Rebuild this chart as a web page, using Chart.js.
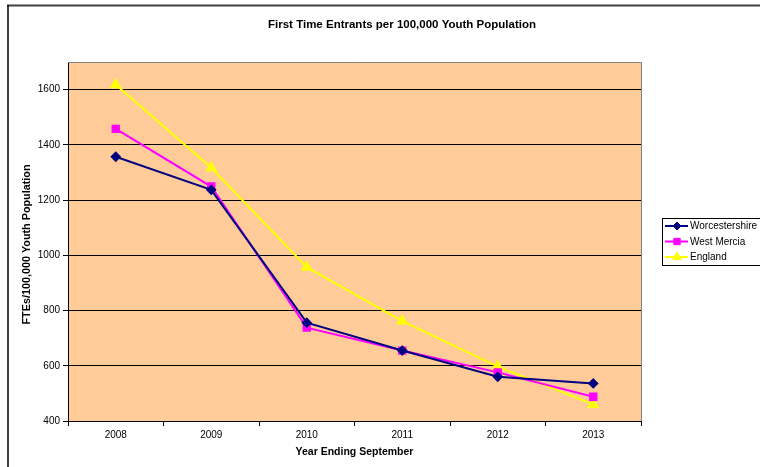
<!DOCTYPE html>
<html>
<head>
<meta charset="utf-8">
<script src="https://cdn.jsdelivr.net/npm/chart.js@4/dist/chart.umd.min.js"></script>
<style>
html,body{margin:0;padding:0;background:#fff;}
#wrap{position:relative;width:760px;height:467px;}
</style>
</head>
<body>
<div id="wrap"><canvas id="c" width="760" height="467"></canvas></div>
<script>
const categories = ['2008','2009','2010','2011','2012','2013'];
const worcestershire = [1357, 1237, 756, 655, 560, 536];
const westMercia = [1458, 1249, 738, 655, 576, 488];
const england = [1618, 1317, 957, 762, 597, 460];
const seriesNames = ['Worcestershire','West Mercia','England'];
const titleText = 'First Time Entrants per 100,000 Youth Population';
const yTitle = 'FTEs/100,000 Youth Population';
const xTitle = 'Year Ending September';

const FONT = '"Liberation Sans", Arial, sans-serif';

const decor = {
  id: 'decor',
  beforeDraw(chart) {
    const {ctx, chartArea: a} = chart;
    ctx.save();
    ctx.fillStyle = '#FFCC99';
    ctx.fillRect(a.left, a.top, a.right - a.left, a.bottom - a.top);
    ctx.restore();
  },
  afterDraw(chart) {
    const {ctx, chartArea: a} = chart;
    ctx.save();
    // outer border
    ctx.strokeStyle = '#404040';
    ctx.lineWidth = 2;
    ctx.beginPath(); ctx.moveTo(7, 5.5); ctx.lineTo(760, 5.5); ctx.stroke();
    ctx.strokeStyle = '#000';
    ctx.lineWidth = 1.5;
    ctx.beginPath(); ctx.moveTo(8, 5); ctx.lineTo(8, 467); ctx.stroke();
    // plot border top/right grey
    ctx.strokeStyle = '#808080';
    ctx.lineWidth = 1;
    ctx.beginPath();
    ctx.moveTo(a.left, a.top + 0.5); ctx.lineTo(a.right + 0.5, a.top + 0.5); ctx.lineTo(a.right + 0.5, a.bottom);
    ctx.stroke();
    // title
    ctx.fillStyle = '#000';
    ctx.textAlign = 'center';
    ctx.textBaseline = 'middle';
    ctx.font = 'bold 11.5px ' + FONT;
    ctx.fillText(titleText, 402, 25);
    ctx.font = 'bold 10.5px ' + FONT;
    ctx.fillText(xTitle, (a.left + a.right) / 2, 452);
    ctx.save();
    ctx.translate(27, (a.top + a.bottom) / 2 + 3);
    ctx.rotate(-Math.PI / 2);
    ctx.font = 'bold 10.8px ' + FONT;
    ctx.fillText(yTitle, 0, 0);
    ctx.restore();
    // legend
    const lx = 662, ly = 218, lw = 110, lh = 47;
    ctx.fillStyle = '#fff';
    ctx.fillRect(lx, ly, lw, lh);
    ctx.strokeStyle = '#000';
    ctx.lineWidth = 1;
    ctx.strokeRect(lx + 0.5, ly + 0.5, lw, lh);
    const ds = chart.data.datasets;
    ds.forEach((d, i) => {
      const y = ly + 8 + i * 15.5;
      ctx.strokeStyle = d.borderColor;
      ctx.lineWidth = 2;
      ctx.beginPath(); ctx.moveTo(lx + 3, y); ctx.lineTo(lx + 26, y); ctx.stroke();
      ctx.fillStyle = d.pointBackgroundColor;
      ctx.strokeStyle = d.pointBorderColor;
      ctx.lineWidth = 1;
      Chart.helpers.drawPoint(ctx, {pointStyle: d.pointStyle, radius: d.pointRadius, borderWidth: 1}, lx + 15, y);
      ctx.fillStyle = '#000';
      ctx.font = '10px ' + FONT;
      ctx.textAlign = 'left';
      ctx.fillText(d.label, lx + 28, y + 0.5);
    });
    ctx.restore();
  }
};

new Chart(document.getElementById('c'), {
  type: 'line',
  data: {
    labels: categories,
    datasets: [
      {label: seriesNames[0], data: worcestershire, borderColor: '#000080', backgroundColor: '#000080',
       pointBackgroundColor: '#000080', pointBorderColor: '#000080', pointStyle: 'rectRot', pointRadius: 4, borderWidth: 2},
      {label: seriesNames[1], data: westMercia, borderColor: '#FF00FF', backgroundColor: '#FF00FF',
       pointBackgroundColor: '#FF00FF', pointBorderColor: '#FF00FF', pointStyle: 'rect', pointRadius: 4.5, borderWidth: 2},
      {label: seriesNames[2], data: england, borderColor: '#FFFF00', backgroundColor: '#FFFF00',
       pointBackgroundColor: '#FFFF00', pointBorderColor: '#FFFF00', pointStyle: 'triangle', pointRadius: 5, borderWidth: 2}
    ]
  },
  options: {
    responsive: false,
    animation: false,
    devicePixelRatio: 1,
    layout: {padding: {left: 10, top: 62, right: 119, bottom: 0}},
    plugins: {legend: {display: false}, title: {display: false}, tooltip: {enabled: false}},
    elements: {line: {tension: 0}, point: {borderWidth: 1}},
    scales: {
      x: {
        type: 'category',
        offset: true,
        afterFit(s) { s.height = 46; },
        grid: {offset: true, drawOnChartArea: false, color: '#000', tickLength: 5, tickWidth: 1},
        border: {color: '#000', width: 1},
        ticks: {color: '#000', font: {family: FONT, size: 10}, padding: 3, maxRotation: 0}
      },
      y: {
        min: 400, max: 1700,
        afterFit(s) { s.width = 58; },
        grid: {color: '#000', lineWidth: 1, tickLength: 5},
        border: {color: '#000', width: 1},
        ticks: {stepSize: 200, includeBounds: false, color: '#000', font: {family: FONT, size: 10}, padding: 3,
                callback: v => String(v)}
      }
    }
  },
  plugins: [decor]
});
</script>
</body>
</html>
